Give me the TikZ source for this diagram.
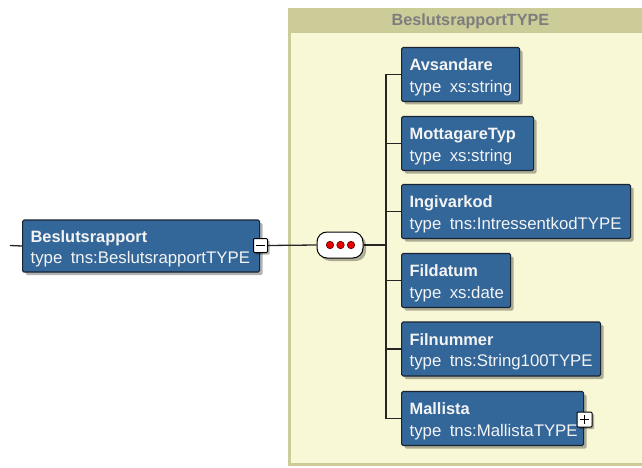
\documentclass[tikz,border=0pt]{standalone}
\usepackage{fontspec}
\setmainfont{Liberation Sans}
\usetikzlibrary{shadows}
\pgfdeclarelayer{bg}
\pgfdeclarelayer{lines}
\pgfsetlayers{bg,lines,main}
\definecolor{boxblue}{RGB}{51,102,153}
\definecolor{boxedge}{RGB}{25,35,50}
\definecolor{olivehdr}{RGB}{204,204,153}
\definecolor{paleyel}{RGB}{248,248,215}
\definecolor{hdrtext}{RGB}{125,125,125}
\definecolor{boxtext}{RGB}{244,244,244}
\definecolor{dotred}{RGB}{230,0,0}
\newcommand{\nm}[1]{\rule{0pt}{17pt}{\fontsize{16.4}{21.5}\selectfont\bfseries #1}}
\begin{document}
\begin{tikzpicture}[x=1pt,y=-1pt,
  elem/.style={draw=boxedge, line width=1.2pt, fill=boxblue, rounded corners=1.5pt,
    anchor=west, minimum height=54pt, inner xsep=8pt, inner ysep=0pt, align=left,
    text=boxtext, font=\fontsize{16.8}{21.5}\selectfont,
    drop shadow={shadow xshift=3pt, shadow yshift=-3pt, fill=black, opacity=0.3}},
  conn/.style={draw=black!85, line width=1.3pt},
  btn/.style={draw=black, fill=white, line width=1pt, minimum size=14pt, inner sep=0pt,
    rounded corners=1pt, drop shadow={shadow xshift=2pt, shadow yshift=-2pt, fill=black, opacity=0.3}},
  seqbox/.style={draw=black, fill=white, line width=1pt, minimum width=46pt, minimum height=26pt,
    rounded corners=10pt, inner sep=0pt,
    drop shadow={shadow xshift=3pt, shadow yshift=-3pt, fill=black, opacity=0.3}},
  dot/.style={circle, fill=dotred, draw=red!40!black, line width=0.6pt, minimum size=7.5pt, inner sep=0pt}
]
\useasboundingbox (0,0) rectangle (642,468);
% container
\begin{pgfonlayer}{bg}
\fill[olivehdr] (288,8) rectangle (642,466);
\fill[paleyel] (291,33) rectangle (642,463);
\end{pgfonlayer}
\node[font=\bfseries\fontsize{16.2}{20}\selectfont, text=hdrtext] (hdr) at (470.5,21) {BeslutsrapportTYPE};

% nodes
\node[elem, minimum height=52pt, text width=221pt] (root) at (22,246) {\nm{Beslutsrapport}\\type\enspace tns:BeslutsrapportTYPE};
\node[elem, text width=102pt] (avs) at (401,74.5) {\nm{Avsandare}\\type\enspace xs:string};
\node[elem, text width=116pt] (mot) at (401,143.5) {\nm{MottagareTyp}\\type\enspace xs:string};
\node[elem, text width=213pt] (ing) at (401,211.5) {\nm{Ingivarkod}\\type\enspace tns:IntressentkodTYPE};
\node[elem, text width=93pt] (fil) at (401,280.5) {\nm{Fildatum}\\type\enspace xs:date};
\node[elem, text width=183pt] (fnr) at (401,349) {\nm{Filnummer}\\type\enspace tns:String100TYPE};
\node[elem, text width=166pt] (mal) at (401,418.5) {\nm{Mallista}\\type\enspace tns:MallistaTYPE};

\node[seqbox] (seq) at (340,245) {};
\node[dot] (d1) at (330,245) {};
\node[dot] (d2) at (340.5,245) {};
\node[dot] (d3) at (351,245) {};

\node[btn] (minus) at (260.5,245.5) {};
\draw[line width=1.2pt] ([xshift=-4.5pt]minus.center) -- ([xshift=4.5pt]minus.center);
\node[btn, minimum size=15pt] (plus) at (584.5,419.5) {};
\draw[line width=1.2pt] ([xshift=-4.5pt]plus.center) -- ([xshift=4.5pt]plus.center)
  ([yshift=-4.5pt]plus.center) -- ([yshift=4.5pt]plus.center);

% connectors
\coordinate (rin) at (10,245.5);
\coordinate (bus) at (386,245);
\begin{pgfonlayer}{lines}
\draw[conn] (rin) -- (root.west);
\draw[conn] (minus.east) -- (seq.west);
\draw[conn] (seq.east) -- (bus);
\foreach \n in {avs,mot,ing,fil,fnr,mal} \draw[conn] (bus) |- (\n.west);
\end{pgfonlayer}
\end{tikzpicture}
\end{document}
